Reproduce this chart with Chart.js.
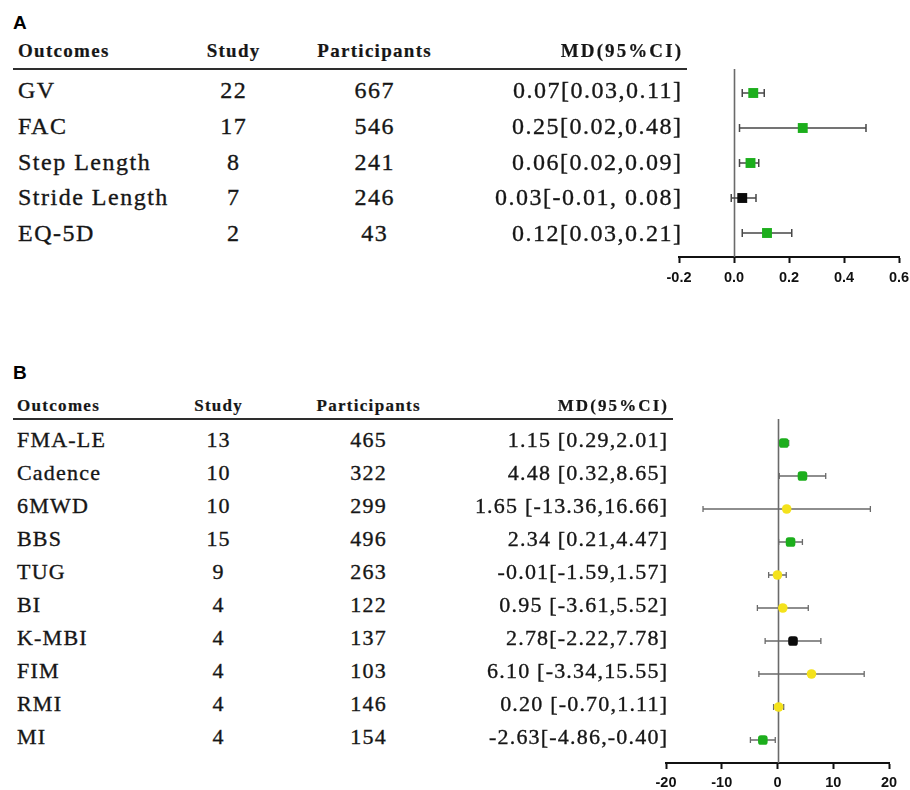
<!DOCTYPE html>
<html>
<head>
<meta charset="utf-8">
<script src="https://cdn.jsdelivr.net/npm/chart.js@4.4.1/dist/chart.umd.min.js"></script>
<style>
  html, body { margin: 0; padding: 0; background: #fff; }
  body { width: 910px; height: 790px; position: relative; overflow: hidden; }
  .t { position: absolute; white-space: pre; line-height: 1; color: #161616; }
  .serif { font-family: "Liberation Serif", "Times New Roman", serif; -webkit-text-stroke: 0.35px #161616; }
  .bold { font-weight: bold; -webkit-text-stroke: 0.2px #161616; }
  .panel { font-family: "Liberation Sans", Arial, sans-serif; font-weight: bold; color: #000; }
  .rule { position: absolute; height: 2px; background: #2e2e2e; }
  canvas { position: absolute; }
</style>
</head>
<body>
<canvas id="plotA" width="260" height="235" style="left:659px;top:59px;width:260px;height:235px"></canvas>
<canvas id="plotB" width="263" height="381" style="left:646px;top:409px;width:263px;height:381px"></canvas>
<script>
// ---- Panel A: gait outcomes ----
const outcomesA = ['GV', 'FAC', 'Step Length', 'Stride Length', 'EQ-5D'];
const studiesA = [22, 17, 8, 7, 2];
const participantsA = [667, 546, 241, 246, 43];
const mdA = [0.07, 0.25, 0.06, 0.03, 0.12];
const loA = [0.03, 0.02, 0.02, -0.01, 0.03];
const hiA = [0.11, 0.48, 0.09, 0.08, 0.21];
const ciTextA = ['0.07[0.03,0.11]', '0.25[0.02,0.48]', '0.06[0.02,0.09]', '0.03[-0.01, 0.08]', '0.12[0.03,0.21]'];
const groupA = ['significant', 'significant', 'significant', 'not significant', 'significant'];
const ticksA = [-0.2, 0, 0.2, 0.4, 0.6];

// ---- Panel B: motor function and daily living outcomes ----
const outcomesB = ['FMA-LE', 'Cadence', '6MWD', 'BBS', 'TUG', 'BI', 'K-MBI', 'FIM', 'RMI', 'MI'];
const studiesB = [13, 10, 10, 15, 9, 4, 4, 4, 4, 4];
const participantsB = [465, 322, 299, 496, 263, 122, 137, 103, 146, 154];
const mdB = [1.15, 4.48, 1.65, 2.34, -0.01, 0.95, 2.78, 6.10, 0.20, -2.63];
const loB = [0.29, 0.32, -13.36, 0.21, -1.59, -3.61, -2.22, -3.34, -0.70, -4.86];
const hiB = [2.01, 8.65, 16.66, 4.47, 1.57, 5.52, 7.78, 15.55, 1.11, -0.40];
const ciTextB = ['1.15 [0.29,2.01]', '4.48 [0.32,8.65]', '1.65 [-13.36,16.66]', '2.34 [0.21,4.47]',
                 '-0.01[-1.59,1.57]', '0.95 [-3.61,5.52]', '2.78[-2.22,7.78]', '6.10 [-3.34,15.55]',
                 '0.20 [-0.70,1.11]', '-2.63[-4.86,-0.40]'];
const groupB = ['significant', 'significant', 'inconclusive', 'significant', 'inconclusive',
                'inconclusive', 'not significant', 'inconclusive', 'inconclusive', 'significant'];
const ticksB = [-20, -10, 0, 10, 20];

const header = ['Outcomes', 'Study', 'Participants', 'MD(95%CI)'];

// marker appearance per evidence group
const groupColor = { 'significant': '#1cae1c', 'inconclusive': '#f4e21c', 'not significant': '#0b0b0b' };

// ---- table text ----
function put(text, x, cy, size, cls, align, ls) {
  const d = document.createElement('div');
  d.className = 't ' + cls;
  d.textContent = text;
  d.style.fontSize = size + 'px';
  d.style.letterSpacing = (ls || 0) + 'px';
  d.style.top = (cy - size / 2) + 'px';
  if (align === 'right') {
    d.style.right = (910 - x - (ls || 0)) + 'px';
  } else if (align === 'center') {
    d.style.left = (x + (ls || 0) / 2) + 'px';
    d.style.transform = 'translateX(-50%)';
  } else {
    d.style.left = x + 'px';
  }
  document.body.appendChild(d);
}
function rule(x1, x2, y) {
  const d = document.createElement('div');
  d.className = 'rule';
  d.style.left = x1 + 'px';
  d.style.width = (x2 - x1) + 'px';
  d.style.top = y + 'px';
  document.body.appendChild(d);
}

function table(cfg) {
  put(cfg.tag, 13, cfg.tagY, 19, 'panel', 'left', 0);
  const h = cfg.headSize;
  put(header[0], cfg.cols[0], cfg.headY, h, 'serif bold', 'left', 1.3);
  put(header[1], cfg.cols[1], cfg.headY, h, 'serif bold', 'center', 1.3);
  put(header[2], cfg.cols[2], cfg.headY, h, 'serif bold', 'center', 1.3);
  put(header[3], cfg.cols[3], cfg.headY, h, 'serif bold', 'right', 2.1);
  rule(13, cfg.ruleEnd, cfg.ruleY);
  cfg.outcomes.forEach((o, i) => {
    const cy = cfg.rowY + cfg.rowStep * i;
    put(o, cfg.cols[0], cy, cfg.size, 'serif', 'left', cfg.ls);
    put(String(cfg.studies[i]), cfg.cols[1], cy, cfg.size, 'serif', 'center', cfg.ls);
    put(String(cfg.participants[i]), cfg.cols[2], cy, cfg.size, 'serif', 'center', cfg.ls);
    put(cfg.ci[i], cfg.cols[3], cy, cfg.size, 'serif', 'right', cfg.ls);
  });
}

table({ tag: 'A', tagY: 22, headY: 50, headSize: 19, ruleY: 68, ruleEnd: 687,
        cols: [18, 233, 374, 681], rowY: 90, rowStep: 35.8, size: 24, ls: 1.5,
        outcomes: outcomesA, studies: studiesA, participants: participantsA, ci: ciTextA });
table({ tag: 'B', tagY: 372, headY: 405, headSize: 17, ruleY: 418, ruleEnd: 673,
        cols: [17, 218, 368, 667], rowY: 440, rowStep: 33, size: 22, ls: 1.2,
        outcomes: outcomesB, studies: studiesB, participants: participantsB, ci: ciTextB });

// ---- forest plots ----
const forestBars = {
  id: 'forestBars',
  beforeDatasetsDraw(chart, args, o) {
    const { ctx, chartArea, scales: { x, y } } = chart;
    ctx.save();
    // line of no effect
    const x0 = Math.round(x.getPixelForValue(0)) + 0.5;
    ctx.strokeStyle = '#6a6a6a';
    ctx.lineWidth = 1.6;
    ctx.beginPath();
    ctx.moveTo(x0, chartArea.top);
    ctx.lineTo(x0, chartArea.bottom);
    ctx.stroke();
    // confidence intervals
    ctx.strokeStyle = o.color;
    ctx.lineWidth = o.width;
    o.lo.forEach((lo, i) => {
      const py = y.getPixelForValue(i);
      const a = x.getPixelForValue(lo), b = x.getPixelForValue(o.hi[i]);
      ctx.beginPath();
      ctx.moveTo(a, py); ctx.lineTo(b, py);
      ctx.moveTo(a, py - o.cap / 2); ctx.lineTo(a, py + o.cap / 2);
      ctx.moveTo(b, py - o.cap / 2); ctx.lineTo(b, py + o.cap / 2);
      ctx.stroke();
    });
    ctx.restore();
  }
};

function forest(id, md, lo, hi, groups, ticks, cfg) {
  const n = md.length;
  new Chart(document.getElementById(id), {
    type: 'scatter',
    data: {
      datasets: [{
        data: md.map((v, i) => ({ x: v, y: i })),
        pointBackgroundColor: groups.map(g => groupColor[g]),
        pointBorderWidth: 0,
        pointBorderColor: 'rgba(0,0,0,0)',
        pointStyle: groups.map(g => cfg.style(g)),
        pointRadius: groups.map(g => cfg.radius(g)),
        pointHoverRadius: groups.map(g => cfg.radius(g))
      }]
    },
    options: {
      responsive: false,
      animation: false,
      devicePixelRatio: 1,
      layout: { padding: { left: 20, right: 20, top: 10, bottom: 0 } },
      plugins: {
        legend: { display: false },
        tooltip: { enabled: false },
        forestBars: { lo, hi, color: cfg.barColor, width: cfg.barWidth, cap: cfg.cap }
      },
      scales: {
        x: {
          type: 'linear',
          min: ticks[0],
          max: ticks[ticks.length - 1],
          afterBuildTicks: s => { s.ticks = ticks.map(v => ({ value: v })); },
          afterFit: s => { s.height = cfg.axisH; },
          border: { display: true, color: '#111', width: 2 },
          grid: { display: true, drawOnChartArea: false, drawTicks: true, tickLength: 6, tickWidth: 2, tickColor: '#111' },
          ticks: {
            padding: cfg.tickPad,
            color: '#111',
            font: { family: '"Liberation Sans", Arial, sans-serif', size: 14.5, weight: 'bold' },
            callback: v => cfg.fmt(v)
          }
        },
        y: {
          type: 'linear',
          display: false,
          reverse: true,
          min: -cfg.topGap,
          max: n - 1 + cfg.bottomGap
        }
      }
    },
    plugins: [forestBars]
  });
}

forest('plotA', mdA, loA, hiA, groupA, ticksA, {
  fmt: v => v.toFixed(1),
  style: () => 'rect',
  radius: () => 7,
  barColor: '#474747', barWidth: 1.5, cap: 8,
  topGap: 24 / 35, bottomGap: 24 / 35,
  axisH: 37, tickPad: 6
});
forest('plotB', mdB, loB, hiB, groupB, ticksB, {
  fmt: v => String(v),
  style: g => g === 'inconclusive' ? 'circle' : 'rectRounded',
  radius: g => g === 'inconclusive' ? 4.8 : 5.6,
  barColor: '#6a6a6a', barWidth: 1.3, cap: 6,
  topGap: 24 / 33, bottomGap: 23 / 33,
  axisH: 27, tickPad: 5
});
</script>
</body>
</html>
